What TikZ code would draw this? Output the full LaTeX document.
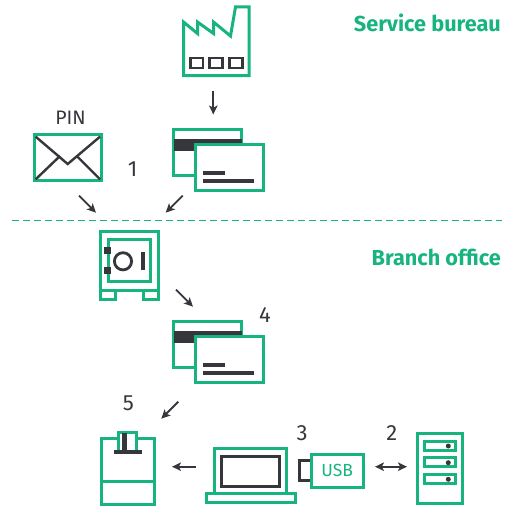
\documentclass[tikz,border=0pt]{standalone}
\usepackage{fontspec}
\setmainfont{Fira Sans}
\usetikzlibrary{arrows.meta}
\definecolor{brand}{HTML}{17B47E}
\definecolor{ink}{HTML}{36373D}
\tikzset{
  x=1pt,y=-1pt,
  gline/.style={draw=brand,line width=3pt,fill=white},
  dline/.style={draw=ink,line width=2.8pt},
  flow/.style={draw=ink,line width=1.8pt,-{Stealth[length=9pt,width=8.5pt,inset=2.2pt]}},
  flowboth/.style={draw=ink,line width=1.8pt,{Stealth[length=9pt,width=8.5pt,inset=2.2pt]}-{Stealth[length=9pt,width=8.5pt,inset=2.2pt]}},
  heading/.style={text=brand,font=\fontsize{21.7}{26}\selectfont\bfseries,anchor=east,inner sep=0pt},
  numlabel/.style={text=ink,font=\fontsize{22}{26}\selectfont,inner sep=0pt},
  cardpair/.pic={
    \draw[gline] (173.7,129.3) rectangle (241.5,175.2);
    \fill[ink] (174,139) rectangle (241.7,151);
    \draw[gline] (195.3,144.7) rectangle (263,190.3);
    \fill[ink] (203,171) rectangle (225,175);
    \fill[ink] (203,179) rectangle (254,183);
  }
}
\begin{document}
\begin{tikzpicture}
\useasboundingbox (0,0) rectangle (512,508);
% headings and divider
\node[heading] (service) at (501,23) {Service bureau};
\node[heading] (branch) at (501,257) {Branch office};
\coordinate (divL) at (12,220.7);
\coordinate (divR) at (502,220.7);
\draw[brand,line width=1.6pt,dash pattern=on 6.5pt off 4.5pt] (divL) -- (divR);
% factory
\draw[gline,miter limit=10] (183.5,22) -- (197.5,33.5) -- (197.5,22) -- (213.5,33.5) -- (213.5,22) -- (230.5,36) -- (235.5,7) -- (249,7) -- (249,75.7) -- (183.5,75.7) -- cycle;
\draw[dline] (190.4,58) rectangle (203,68);
\draw[dline] (209.7,58) rectangle (222.7,68);
\draw[dline] (229.7,58) rectangle (242.7,68);
% envelope
\node[inner sep=0pt,text=ink,font=\fontsize{19.5}{23}\selectfont] (pin) at (70.5,118) {PIN};
\draw[gline] (34.5,135) rectangle (101.5,181);
\draw[draw=ink,line width=2.4pt] (35.7,136.7) -- (67.7,164) -- (100,136.7);
\draw[draw=ink,line width=2.4pt] (35.7,179.3) -- (60,156);
\draw[draw=ink,line width=2.4pt] (100,179.3) -- (76.7,156);
% cards
\pic {cardpair};
\pic at (0,192) {cardpair};
% safe
\draw[gline] (100.3,290) rectangle (115,299.7);
\draw[gline] (143.3,290) rectangle (158.3,299.7);
\draw[gline] (100.3,232) rectangle (158.3,290);
\draw[gline] (108,240) rectangle (150.7,281.7);
\fill[ink] (104,247) rectangle (111,254);
\fill[ink] (104,267) rectangle (111,274);
\draw[dline] (123,261.3) circle (8.6);
\fill[ink] (141,252) rectangle (145,270);
% printer
\draw[gline] (101.3,438.7) rectangle (154.3,481.3);
\draw[gline] (101.3,481.3) rectangle (154.3,504);
\draw[gline] (118,451) -- (118,432.3) -- (136.7,432.3) -- (136.7,451);
\fill[ink] (122.3,433) rectangle (126.7,450);
\fill[ink] (114.3,450) rectangle (141.7,453.5);
% laptop
\draw[gline] (214,448.7) rectangle (286.7,493.3);
\draw[dline] (221.3,456.3) rectangle (279.3,486.3);
\draw[gline] (206,493.3) rectangle (295,502.3);
% USB
\draw[dline] (310.7,460.7) -- (299.7,460.7) -- (299.7,480.7) -- (310.7,480.7);
\node[gline,minimum width=52pt,minimum height=33pt,inner sep=0pt,text=brand,font=\fontsize{17.5}{20}\selectfont] (usb) at (337.3,470.5) {USB};
% server
\draw[gline] (417.7,433.7) rectangle (462,503);
\draw[gline] (424,441.3) rectangle (455,450.3);
\draw[gline] (424,457.6) rectangle (455,466.8);
\draw[gline] (424,474.4) rectangle (455,483.8);
\fill[ink] (448.3,446) circle (2.5);
\fill[ink] (448.3,462.7) circle (2.5);
\fill[ink] (448.3,479.3) circle (2.5);
% numbers
\node[numlabel] (n1) at (132.7,169) {1};
\node[numlabel] (n4) at (265,315.5) {4};
\node[numlabel] (n5) at (128.3,403.5) {5};
\node[numlabel] (n3) at (302,433) {3};
\node[numlabel] (n2) at (391.7,433) {2};
% arrows
\coordinate (a1s) at (213.3,90.7); \coordinate (a1e) at (213.3,114.5);
\coordinate (a2s) at (79,195.7); \coordinate (a2e) at (96,212.7);
\coordinate (a3s) at (182.7,195.7); \coordinate (a3e) at (165.7,212.7);
\coordinate (a4s) at (176,289.7); \coordinate (a4e) at (193,306.7);
\coordinate (a5s) at (178.3,401.7); \coordinate (a5e) at (161.3,418.7);
\coordinate (a6s) at (195.7,466.7); \coordinate (a6e) at (172,466.7);
\coordinate (a7s) at (375,466.7); \coordinate (a7e) at (407,466.7);
\draw[flow] (a1s) -- (a1e);
\draw[flow] (a2s) -- (a2e);
\draw[flow] (a3s) -- (a3e);
\draw[flow] (a4s) -- (a4e);
\draw[flow] (a5s) -- (a5e);
\draw[flow] (a6s) -- (a6e);
\draw[flowboth] (a7s) -- (a7e);
\end{tikzpicture}
\end{document}
